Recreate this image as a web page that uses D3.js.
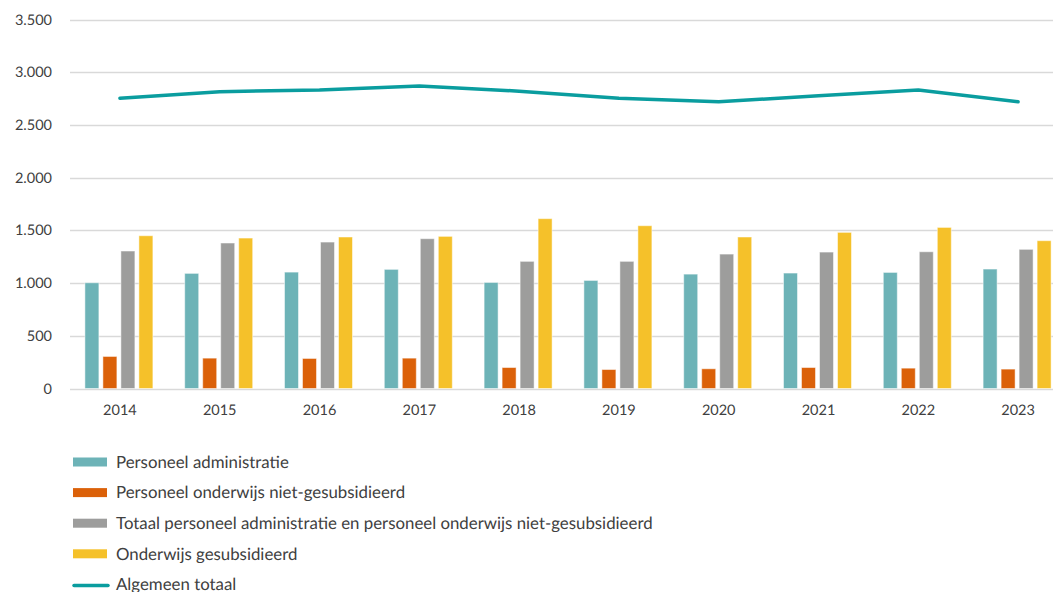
<!DOCTYPE html>
<html>
<head>
<meta charset="utf-8">
<script src="https://cdn.jsdelivr.net/npm/d3@7"></script>
<style>
  body { margin: 0; background: #fff; }
  svg { display: block; font-family: Lato, "Open Sans", sans-serif; text-rendering: geometricPrecision; }
</style>
</head>
<body>
<svg id="chart" width="1053" height="592"></svg>
<script>
const years = ["2014","2015","2016","2017","2018","2019","2020","2021","2022","2023"];
const administratie = [1003, 1092, 1104, 1130, 1006, 1025, 1085, 1095, 1101, 1133];
const onderwijsNiet = [304, 288, 285, 288, 199, 180, 187, 199, 193, 184];
const totaalPersoneel = [1304, 1380, 1389, 1421, 1206, 1206, 1275, 1294, 1297, 1320];
const onderwijsGesub = [1449, 1427, 1437, 1443, 1611, 1544, 1437, 1481, 1528, 1402];
const algemeenTotaal = [2753, 2815, 2832, 2870, 2820, 2753, 2719, 2776, 2832, 2719];
const yTicks = [0, 500, 1000, 1500, 2000, 2500, 3000, 3500];

const barSeries = [
  { name: "Personeel administratie", values: administratie, color: "#6db3b7" },
  { name: "Personeel onderwijs niet-gesubsidieerd", values: onderwijsNiet, color: "#db6109" },
  { name: "Totaal personeel administratie en personeel onderwijs niet-gesubsidieerd", values: totaalPersoneel, color: "#9d9d9c" },
  { name: "Onderwijs gesubsidieerd", values: onderwijsGesub, color: "#f5c12a" }
];
const lineSeries = { name: "Algemeen totaal", values: algemeenTotaal, color: "#0a9d9f" };

const svg = d3.select("#chart");
const locale = d3.formatLocale({ decimal: ",", thousands: ".", grouping: [3], currency: ["", ""] });
const fmt = locale.format(",d");

const x = d3.scaleBand().domain(years).range([70, 1068]).padding(0);
const xInner = d3.scaleBand().domain(barSeries.map(d => d.name)).range([-35, 33]).paddingInner(4/18).paddingOuter(0);
const y = d3.scaleLinear().domain([0, 3500]).range([388.5, 19.5]);

// gridlines
svg.append("g").selectAll("line").data(yTicks).join("line")
  .attr("x1", 70).attr("x2", 1053)
  .attr("y1", d => Math.round(y(d)) + 0.5).attr("y2", d => Math.round(y(d)) + 0.5)
  .attr("stroke", "#d9d9d9").attr("stroke-width", 1.3);

// y axis labels
const yAxis = d3.axisLeft(y).tickValues(yTicks).tickFormat(fmt).tickSize(0).tickPadding(0);
const gy = svg.append("g").attr("transform", "translate(52,0)").call(yAxis);
gy.select(".domain").remove();
gy.selectAll("text").attr("font-size", 14.5).attr("fill", "#404040").attr("font-family", "Lato, sans-serif");

// x axis labels
const xAxis = d3.axisBottom(x).tickSize(0).tickPadding(0);
const gx = svg.append("g").attr("transform", "translate(0,405)").call(xAxis);
gx.select(".domain").remove();
gx.selectAll("text").attr("font-size", 14.5).attr("fill", "#404040").attr("font-family", "Lato, sans-serif");

// bars
const center = yr => x(yr) + x.bandwidth() / 2;
barSeries.forEach(s => {
  svg.append("g").selectAll("rect").data(years.map((yr, i) => ({ yr, v: s.values[i] }))).join("rect")
    .attr("x", d => center(d.yr) + xInner(s.name))
    .attr("width", xInner.bandwidth())
    .attr("y", d => y(d.v))
    .attr("height", d => y(0) - y(d.v))
    .attr("fill", s.color)
    .attr("stroke", "#ffffff").attr("stroke-opacity", 0.5).attr("stroke-width", 1);
});

// line
const line = d3.line().x((d, i) => center(years[i])).y(d => y(d));
svg.append("path").datum(lineSeries.values)
  .attr("d", line).attr("fill", "none")
  .attr("stroke", lineSeries.color).attr("stroke-width", 3.5)
  .attr("stroke-linecap", "round").attr("stroke-linejoin", "round");

// legend
const legendItems = barSeries.map(s => ({ name: s.name, color: s.color, type: "bar" }))
  .concat([{ name: lineSeries.name, color: lineSeries.color, type: "line" }]);
const lg = svg.append("g");
const texts = [];
legendItems.forEach((d, i) => {
  const cy = 462 + i * 30.6;
  const g = lg.append("g");
  if (d.type === "bar") {
    g.append("rect").attr("x", 73).attr("y", cy - 4.5).attr("width", 34).attr("height", 9).attr("fill", d.color);
  } else {
    g.append("line").attr("x1", 74).attr("x2", 108).attr("y1", cy + 1).attr("y2", cy + 1)
      .attr("stroke", d.color).attr("stroke-width", 3.5).attr("stroke-linecap", "round");
  }
  texts.push(g.append("text").attr("x", 116).attr("y", cy).attr("dy", "0.35em")
    .attr("font-size", 16).attr("fill", "#404040").text(d.name));
});
// fit the longest legend label to the reference width (~537px)
const longest = texts[2].node().getComputedTextLength();
const fs = 16 * 537 / longest;
texts.forEach(t => t.attr("font-size", fs));
</script>
</body>
</html>
